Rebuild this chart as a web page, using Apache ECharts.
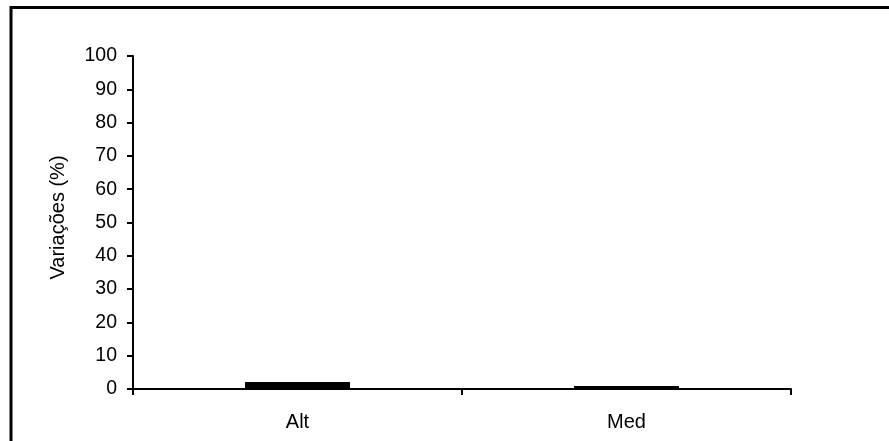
<!DOCTYPE html>
<html>
<head>
<meta charset="utf-8">
<script src="https://cdn.jsdelivr.net/npm/echarts@6/dist/echarts.min.js"></script>
<style>
	html, body { margin: 0; padding: 0; background: #fff; }
	#chart { width: 889px; height: 441px; }
</style>
</head>
<body>
<div id="chart"></div>
<script>
let categories = ['Alt', 'Med']
let values = [2.1, 0.9]
let yTicks = [0, 100, 10] // min, max, interval

var chart = echarts.init(document.getElementById('chart'));
chart.setOption({
	animation: false,
	textStyle: {
		fontFamily: 'Liberation Sans, Arial, sans-serif'
	},
	grid: {
		left: 133,
		right: 98,
		top: 56,
		bottom: 52
	},
	//外框：只有上边和左边
	graphic: [{
		type: 'line',
		shape: { x1: 11, y1: 7.5, x2: 889, y2: 7.5 },
		style: { stroke: '#000', lineWidth: 3 }
	}, {
		type: 'line',
		shape: { x1: 11, y1: 6, x2: 11, y2: 441 },
		style: { stroke: '#000', lineWidth: 3 }
	}],
	xAxis: {
		type: 'category',
		data: categories,
		axisLine: {
			lineStyle: { color: '#000', width: 2 }
		},
		axisTick: {
			show: true,
			length: 6,
			lineStyle: { color: '#000', width: 2 }
		},
		axisLabel: {
			color: '#000',
			fontSize: 20,
			margin: 23
		},
		splitLine: { show: false }
	},
	yAxis: {
		type: 'value',
		min: yTicks[0],
		max: yTicks[1],
		interval: yTicks[2],
		name: 'Variações (%)',
		nameLocation: 'middle',
		nameGap: 65,
		nameTextStyle: {
			color: '#000',
			fontSize: 20,
			padding: [0, 0, 0, 10]
		},
		axisLine: {
			show: true,
			lineStyle: { color: '#000', width: 2 }
		},
		axisTick: {
			show: true,
			length: 6,
			lineStyle: { color: '#000', width: 2 }
		},
		axisLabel: {
			color: '#000',
			fontSize: 19.5,
			margin: 16
		},
		splitLine: { show: false }
	},
	series: [{
		type: 'bar',
		data: values,
		barWidth: 105,
		itemStyle: {
			color: '#000'
		}
	}]
})
</script>
</body>
</html>
